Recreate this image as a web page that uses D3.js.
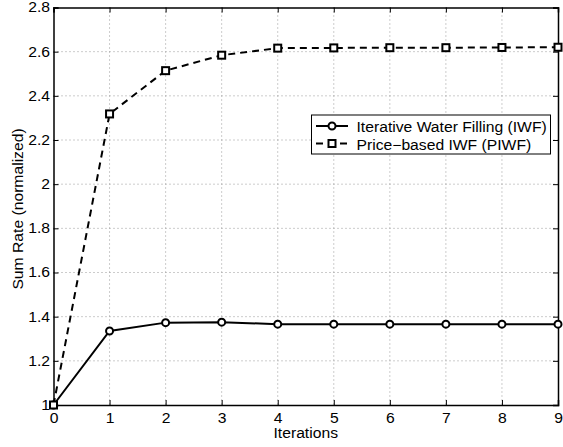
<!DOCTYPE html>
<html><head><meta charset="utf-8">
<script src="https://cdn.jsdelivr.net/npm/d3@7"></script>
<style>body{margin:0;background:#fff}svg{display:block;font-family:"Liberation Sans",Arial,sans-serif}</style>
</head><body><svg id="c" width="563" height="447"></svg>
<script>
const iterations = [0,1,2,3,4,5,6,7,8,9];
const iwf = [1.0,1.335,1.373,1.375,1.366,1.366,1.366,1.366,1.366,1.366];
const piwf = [1.0,2.318,2.514,2.584,2.616,2.617,2.618,2.618,2.619,2.620];
const xTicks = [0,1,2,3,4,5,6,7,8,9];
const yTicks = [1,1.2,1.4,1.6,1.8,2,2.2,2.4,2.6,2.8];
const seriesNames = ["Iterative Water Filling (IWF)","Price\u2212based IWF (PIWF)"];

const svg = d3.select("#c");
const L=53.5,R=558,T=7.5,B=405;
const FS=14, STRETCH=1.12;
const x=d3.scaleLinear().domain([0,9]).range([L,R]);
const y=d3.scaleLinear().domain([1,2.8]).range([B,T]);

// grid
const g=svg.append("g");
xTicks.slice(1,-1).forEach(t=>g.append("line").attr("x1",x(t)).attr("x2",x(t)).attr("y1",T).attr("y2",B).attr("stroke","#999").attr("stroke-width",1).attr("stroke-dasharray","1,3"));
yTicks.slice(1,-1).forEach(t=>g.append("line").attr("x1",L).attr("x2",R).attr("y1",y(t)).attr("y2",y(t)).attr("stroke","#999").attr("stroke-width",1).attr("stroke-dasharray","1,3"));

// axes
const fmt=d=>d3.format("")(+d.toFixed(1));
svg.append("g").attr("transform",`translate(0,${B})`).call(d3.axisBottom(x).tickValues(xTicks).tickSize(-5).tickPadding(8).tickFormat(d3.format("d")));
svg.append("g").attr("transform",`translate(${L},0)`).call(d3.axisLeft(y).tickValues(yTicks).tickSize(-5).tickPadding(3.5).tickFormat(fmt));
svg.append("g").attr("transform",`translate(0,${T})`).call(d3.axisTop(x).tickValues(xTicks).tickSize(-5).tickFormat(""));
svg.append("g").attr("transform",`translate(${R},0)`).call(d3.axisRight(y).tickValues(yTicks).tickSize(-5).tickFormat(""));
svg.selectAll(".domain").attr("stroke","#000").attr("stroke-width",1.5);
svg.selectAll(".tick line").attr("stroke","#000");
svg.selectAll(".tick text").attr("font-size",FS).attr("fill","#000").attr("font-family","Liberation Sans, Arial, sans-serif");

svg.append("text").attr("x",(L+R)/2).attr("y",438).attr("text-anchor","middle").attr("font-size",FS).text("Iterations");
svg.append("text").attr("transform",`translate(23,209) rotate(-90)`).attr("text-anchor","middle").attr("font-size",FS).text("Sum Rate (normalized)");

const line=d3.line().x((d,i)=>x(iterations[i])).y(d=>y(d));
svg.append("path").datum(iwf).attr("d",line).attr("fill","none").attr("stroke","#000").attr("stroke-width",2);
svg.append("path").datum(piwf).attr("d",line).attr("fill","none").attr("stroke","#000").attr("stroke-width",2).attr("stroke-dasharray","7,5");
svg.selectAll(".c").data(iwf).enter().append("circle").attr("cx",(d,i)=>x(iterations[i])).attr("cy",d=>y(d)).attr("r",3.5).attr("fill","#fff").attr("stroke","#000").attr("stroke-width",2);
svg.selectAll(".s").data(piwf).enter().append("rect").attr("x",(d,i)=>x(iterations[i])-3.5).attr("y",d=>y(d)-3.5).attr("width",7).attr("height",7).attr("fill","#fff").attr("stroke","#000").attr("stroke-width",2);

// legend
const lg=svg.append("g");
lg.append("rect").attr("x",311.5).attr("y",115).attr("width",239).attr("height",39).attr("fill","#fff").attr("stroke","#000").attr("stroke-width",1);
const ly=[126,143.5];
lg.append("line").attr("x1",316).attr("x2",348).attr("y1",ly[0]).attr("y2",ly[0]).attr("stroke","#000").attr("stroke-width",2);
lg.append("circle").attr("cx",332).attr("cy",ly[0]).attr("r",3.5).attr("fill","#fff").attr("stroke","#000").attr("stroke-width",2);
lg.append("line").attr("x1",316).attr("x2",348).attr("y1",ly[1]).attr("y2",ly[1]).attr("stroke","#000").attr("stroke-width",2).attr("stroke-dasharray","7,5");
lg.append("rect").attr("x",328.5).attr("y",ly[1]-3.5).attr("width",7).attr("height",7).attr("fill","#fff").attr("stroke","#000").attr("stroke-width",2);
seriesNames.forEach((n,i)=>lg.append("text").attr("x",356.5).attr("y",ly[i]+6).attr("font-size",FS).text(n));

// horizontally widen glyphs to match reference rendering
svg.selectAll("text").each(function(){
  const w=this.getComputedTextLength();
  if(w>0) d3.select(this).attr("textLength",w*STRETCH).attr("lengthAdjust","spacingAndGlyphs");
});
</script></body></html>
